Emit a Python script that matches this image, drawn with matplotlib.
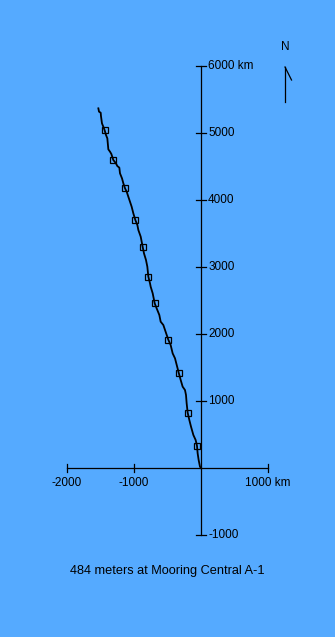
import matplotlib.pyplot as plt

# track of the float (km east, km north of the mooring)
track_x = [-1532, -1522, -1497, -1493, -1478, -1458, -1438, -1418, -1398, -1383,
           -1358, -1338, -1309, -1269, -1249, -1219, -1209, -1179, -1159, -1134,
           -1109, -1085, -1060, -1035, -1010, -980, -950, -935, -900, -871,
           -851, -821, -801, -786, -761, -751, -721, -691, -662, -622,
           -602, -562, -537, -488, -453, -423, -388, -333, -303, -274,
           -239, -224, -214, -199, -174, -149, -114, -80, -60, -50,
           -35, -15, 0]
track_y = [5368, 5318, 5303, 5254, 5144, 5094, 5040, 4970, 4920, 4756,
           4721, 4687, 4597, 4547, 4507, 4483, 4398, 4323, 4249, 4174,
           4124, 4050, 3975, 3900, 3801, 3701, 3627, 3552, 3453, 3303,
           3204, 3104, 3005, 2856, 2756, 2706, 2607, 2458, 2383, 2284,
           2184, 2134, 2060, 1915, 1836, 1711, 1637, 1423, 1313, 1214,
           1164, 1090, 965, 826, 716, 617, 493, 418, 333, 219,
           119, 20, 0]

# square markers along the track
mark_x = [-1438, -1309, -1134, -980, -871, -786, -691, -488, -333, -199, -60]
mark_y = [5040, 4597, 4174, 3701, 3303, 2856, 2458, 1915, 1423, 826, 333]

xticks = [-2000, -1000, 1000]
xlabels = ['-2000', '-1000', '1000 km']
yticks = [-1000, 1000, 2000, 3000, 4000, 5000, 6000]
ylabels = ['-1000', '1000', '2000', '3000', '4000', '5000', '6000 km']

title = '484 meters at Mooring Central A-1'

bg = '#55AAFF'
plt.rcParams['font.family'] = ['Liberation Sans', 'DejaVu Sans']

fig = plt.figure(figsize=(3.35, 6.37), dpi=100, facecolor=bg)
ax = fig.add_axes([0, 0, 1, 1])
ax.set_facecolor(bg)
ax.set_xlim(-3000, 2000)
ax.set_ylim(-2522, 6985)
ax.axis('off')

# axes crossing at the origin
ax.plot([-2000, 1000], [0, 0], color='black', lw=0.9)
ax.plot([0, 0], [-1000, 6000], color='black', lw=0.9)
for t, lab in zip(xticks, xlabels):
    ax.plot([t, t], [-60, 60], color='black', lw=0.9)
    ax.text(t, -225, lab, ha='center', va='center', fontsize=8.5)
for t, lab in zip(yticks, ylabels):
    ax.plot([-70, 70], [t, t], color='black', lw=0.9)
    ax.text(105, t, lab, ha='left', va='center', fontsize=8.5)

# track and markers
ax.plot(track_x, track_y, color='black', lw=1.3)
ax.plot(mark_x, mark_y, linestyle='none', marker='s', markersize=5,
        markerfacecolor='none', markeredgecolor='black', markeredgewidth=0.9)

# north arrow
ax.plot([1254, 1254], [5463, 5985], color='black', lw=0.9)
ax.plot([1254, 1351], [5985, 5791], color='black', lw=0.9)
ax.text(1254, 6288, 'N', ha='center', va='center', fontsize=8.5)

ax.text(-500, -1530, title, ha='center', va='center', fontsize=9.2)

fig.savefig('out.png', dpi=100, facecolor=bg)
